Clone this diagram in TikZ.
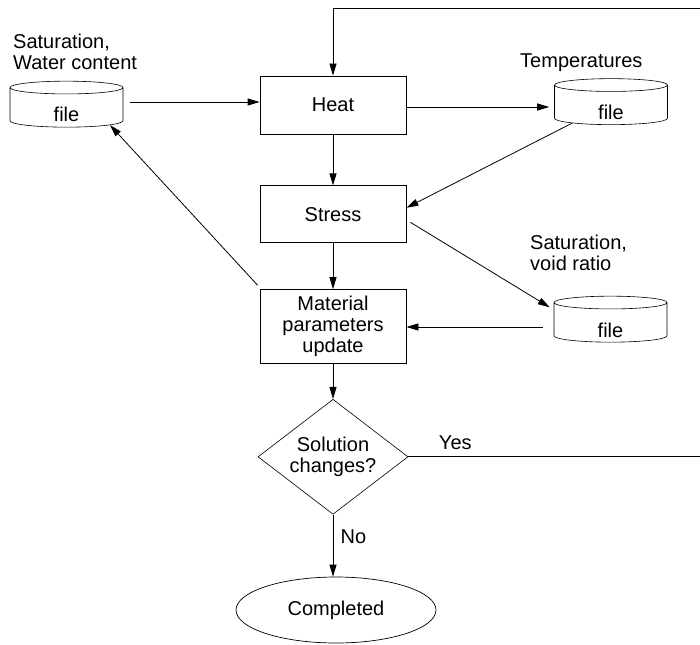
\documentclass[tikz,border=0pt]{standalone}
\usepackage{fontspec}
\setmainfont{Liberation Sans}
\usepackage{tikz}
\usetikzlibrary{positioning, arrows.meta, shapes.geometric}

\begin{document}
\begin{tikzpicture}[
      x=1pt, y=-1pt,
      every node/.style={
        font=\fontsize{20}{21}\selectfont
      },
      box/.style={
        draw,
        line width=0.8pt,
        minimum width=146pt,
        align=center,
        inner sep=0pt
      },
      datafile/.style={
        draw,
        cylinder,
        shape border rotate=90,
        aspect=0.5,
        line width=0.6pt,
        minimum width=113pt,
        minimum height=46pt,
        inner sep=0pt
      },
      note/.style={
        align=left,
        inner sep=0pt,
        anchor=north west
      },
      arrow/.style={
        -{Triangle[length=12pt,width=7pt]},
        line width=0.8pt
      }
    ]

    \useasboundingbox (0,0) rectangle (700,644);

    % main column
    \node[box, minimum height=58pt] (heat) at (333,105) {Heat};
    \node[box, minimum height=57pt, below=51pt of heat] (stress) {Stress};
    \node[box, minimum height=74pt, below=46pt of stress] (update)
      {Material\\parameters\\update};
    \node[draw, diamond, aspect=1.3, line width=0.6pt, align=center,
      inner sep=0pt, minimum width=150pt, minimum height=115pt,
      below=35pt of update] (decision) {Solution\\changes?};
    \node[draw, ellipse, line width=0.7pt, inner sep=0pt,
      minimum width=200pt, minimum height=66pt] (done) at (336,610) {Completed};

    % files
    \node[datafile] (waterfile) at (66.5,107.5) {\smash{\raisebox{-14.5pt}{file}}};
    \node[datafile] (tempfile) at (611,105) {\smash{\raisebox{-14.5pt}{file}}};
    \node[datafile] (voidfile) at (610.5,322.5) {\smash{\raisebox{-14.5pt}{file}}};

    \node[note] (waterlabel) at (13,34) {Saturation,\\Water content};
    \node[note] (templabel) at (520,54) {Temperatures};
    \node[note] (voidlabel) at (530,235) {Saturation,\\void ratio};

    \coordinate (loopcorner) at (702,8);

    \draw[arrow]
      ([xshift=7pt,yshift=5.5pt]waterfile.east) --
      ([yshift=5.5pt]waterfile.east -| heat.west);

    \draw[arrow]
      ([yshift=-2pt]heat.east) --
      ([xshift=-5pt,yshift=-2pt]heat.east -| tempfile.west);

    \draw[arrow] (heat) -- (stress);
    \draw[arrow] (tempfile.205) -- ([yshift=6.5pt]stress.east);
    \draw[arrow] ([xshift=4pt,yshift=-8pt]stress.east) -- ([xshift=-4pt]voidfile.165);
    \draw[arrow] (stress) -- (update);

    \draw[arrow]
      ([xshift=-11pt,yshift=-4.5pt]voidfile.west) --
      ([yshift=-4.5pt]voidfile.west -| update.east);

    \draw[arrow] ([shift={(-2,-4)}]update.north west) -- (waterfile.338);
    \draw[arrow] (update) -- (decision);

    \draw[arrow]
      (decision.east) -| node[pos=0.08, above=3pt] {Yes}
      (loopcorner) -| (heat.north);

    \draw[arrow]
      (decision.south) -- node[pos=0.35, right=4pt] {No}
      (decision.south |- done.north);

    \end{tikzpicture}
\end{document}
